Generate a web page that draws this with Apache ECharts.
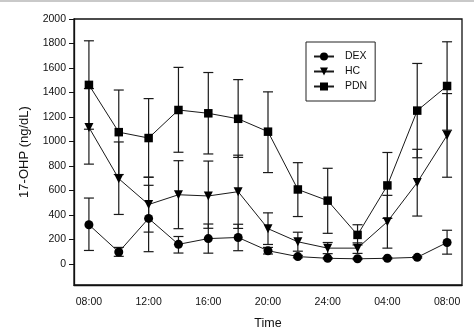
<!DOCTYPE html>
<html>
<head>
<meta charset="utf-8">
<script src="https://cdn.jsdelivr.net/npm/echarts@6/dist/echarts.min.js"></script>
<style>
  html, body { margin: 0; padding: 0; background: #fff; }
  #chart { width: 474px; height: 335px; }
</style>
</head>
<body>
<div id="chart"></div>
<script>
// Sampling times over 24 hours (every 2 h)
const times = ['08:00', '10:00', '12:00', '14:00', '16:00', '18:00', '20:00',
               '22:00', '24:00', '02:00', '04:00', '06:00', '08:00'];

// Y axis tick labels (ng/dL)
const yTicks = [0, 200, 400, 600, 800, 1000, 1200, 1400, 1600, 1800, 2000];

// DEX: mean and error-bar bounds
const dexMean = [320, 97, 372, 160, 207, 216, 108, 60, 46, 42, 46, 54, 175];
const dexLow  = [110, 62, 100, 89, 88, 108, 81, 50, 40, 36, 40, 48, 80];
const dexHigh = [538, 135, 642, 224, 326, 324, 135, 70, 52, 48, 52, 60, 275];

// HC: mean and error-bar bounds
const hcMean = [1115, 696, 485, 565, 555, 590, 288, 181, 129, 129, 345, 665, 1050];
const hcLow  = [815, 404, 260, 288, 291, 290, 159, 104, 84, 86, 129, 391, 708];
const hcHigh = [1432, 996, 708, 843, 840, 888, 417, 259, 175, 172, 560, 936, 1391];

// PDN: mean and error-bar bounds
const pdnMean = [1462, 1076, 1028, 1257, 1230, 1185, 1080, 608, 517, 237, 641, 1252, 1453];
const pdnLow  = [1100, 730, 708, 912, 898, 870, 746, 387, 250, 155, 372, 867, 1092];
const pdnHigh = [1822, 1420, 1350, 1605, 1563, 1505, 1405, 827, 781, 320, 910, 1637, 1814];

const FONT = 'Liberation Sans, Arial, sans-serif';
const INK = '#111';

// Vertical error bar with caps, drawn in data coordinates
function errorBars(low, high) {
  return {
    type: 'custom',
    silent: true,
    z: 1,
    data: low.map((l, i) => [i, l, high[i]]),
    encode: { x: 0, y: [1, 2] },
    renderItem: function (params, api) {
      const i = api.value(0);
      const lo = api.coord([i, api.value(1)]);
      const hi = api.coord([i, api.value(2)]);
      const hw = 5;
      const st = { stroke: '#1a1a1a', lineWidth: 1.2 };
      return {
        type: 'group',
        children: [
          { type: 'line', shape: { x1: lo[0], y1: lo[1], x2: hi[0], y2: hi[1] }, style: st },
          { type: 'line', shape: { x1: lo[0] - hw, y1: lo[1], x2: lo[0] + hw, y2: lo[1] }, style: st },
          { type: 'line', shape: { x1: hi[0] - hw, y1: hi[1], x2: hi[0] + hw, y2: hi[1] }, style: st }
        ]
      };
    }
  };
}

function meanLine(name, data, symbol, size, rotate) {
  return {
    name: name,
    type: 'line',
    data: data,
    symbol: symbol,
    symbolSize: size,
    symbolRotate: rotate || 0,
    z: 3,
    itemStyle: { color: '#000', borderWidth: 0 },
    lineStyle: { color: '#1a1a1a', width: 1 }
  };
}

const chart = echarts.init(document.getElementById('chart'), null, { renderer: 'canvas' });
chart.setOption({
  animation: false,
  backgroundColor: '#fff',
  textStyle: { fontFamily: FONT },
  graphic: [{
    type: 'rect', left: 0, top: 0,
    shape: { width: 474, height: 2 },
    style: { fill: '#c9c9c9' }
  }],
  grid: {
    left: 74, right: 12, top: 19, bottom: 47,
    show: true, borderColor: INK, borderWidth: 1.3, backgroundColor: 'transparent'
  },
  legend: {
    data: ['DEX', 'HC', 'PDN'],
    orient: 'vertical',
    left: 306, top: 42,
    padding: [9, 8, 9, 7],
    itemGap: 4,
    itemWidth: 20,
    itemHeight: 10,
    borderColor: '#222',
    borderWidth: 1,
    borderRadius: 0,
    textStyle: { fontFamily: FONT, fontSize: 10.5, color: INK, padding: [0, 0, 0, 6] }
  },
  xAxis: {
    type: 'category',
    data: times,
    boundaryGap: true,
    axisLine: { onZero: false, lineStyle: { color: INK, width: 1.3 } },
    axisTick: { interval: 1, alignWithLabel: true, length: 5, lineStyle: { color: INK } },
    axisLabel: { interval: 1, fontSize: 10.5, color: INK, margin: 12, fontFamily: FONT },
    splitLine: { show: false },
    name: 'Time',
    nameLocation: 'middle',
    nameGap: 32,
    nameTextStyle: { fontSize: 12.5, color: INK, fontFamily: FONT }
  },
  yAxis: {
    type: 'value',
    min: -172,
    max: 2000,
    axisLine: { show: true, lineStyle: { color: INK, width: 1.3 } },
    axisTick: { show: true, length: 5, customValues: yTicks, lineStyle: { color: INK } },
    axisLabel: {
      customValues: yTicks, fontSize: 10.5, color: INK, margin: 8, fontFamily: FONT,
      formatter: function (v) { return String(v); }
    },
    splitLine: { show: false },
    name: '17-OHP (ng/dL)',
    nameLocation: 'middle',
    nameGap: 43,
    nameTextStyle: { fontSize: 13, color: INK, fontFamily: FONT }
  },
  series: [
    errorBars(pdnLow, pdnHigh),
    errorBars(hcLow, hcHigh),
    errorBars(dexLow, dexHigh),
    meanLine('DEX', dexMean, 'circle', 9),
    meanLine('HC', hcMean, 'triangle', 9, 180),
    meanLine('PDN', pdnMean, 'rect', 8.5)
  ]
});
</script>
</body>
</html>
